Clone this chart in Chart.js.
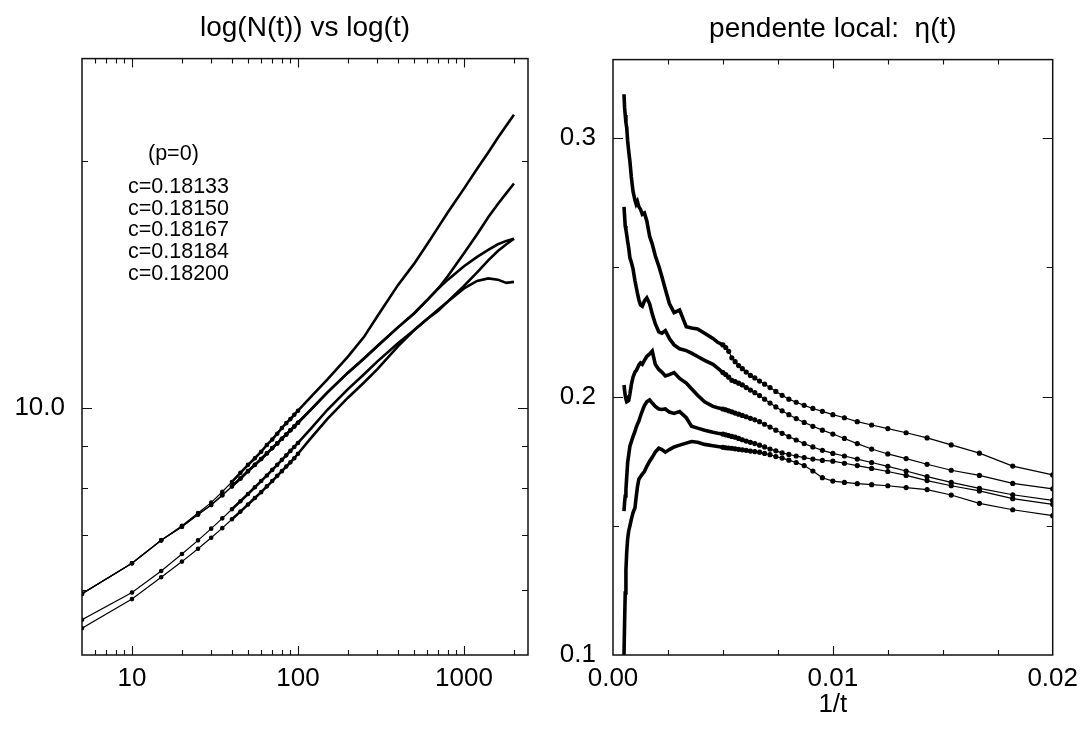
<!DOCTYPE html>
<html>
<head>
<meta charset="utf-8">
<script src="https://cdn.jsdelivr.net/npm/chart.js@4.4.0/dist/chart.umd.min.js"></script>
<style>
  body { margin: 0; background: #fff; width: 1086px; height: 731px; overflow: hidden; position: relative;
         font-family: "Liberation Sans", Arial, Helvetica, sans-serif; }
  canvas { position: absolute; top: 0; }
  #left { left: 0; }
  #right { left: 540px; }
  .note { position: absolute; font-size: 21.5px; line-height: 21.7px; color: #000; white-space: pre; }
</style>
</head>
<body>
<canvas id="left" width="540" height="731"></canvas>
<canvas id="right" width="546" height="731"></canvas>
<div class="note" id="pNote" style="left:148px; top:143px;"></div>
<div class="note" id="cList" style="left:128px; top:176px;"></div>
<script>
const FONT = '"Liberation Sans", Arial, Helvetica, sans-serif';

// ---- left panel: N(t) against t, both log ----
const tLeft = [5, 10, 15, 20, 25, 30, 35, 40, 45, 50, 55, 60, 65, 70, 75, 80, 85, 90, 95, 100,
  120, 150, 200, 250, 300, 400, 500, 600, 700, 800, 1000, 1200, 1400, 1600, 1800, 2000];
const nA = [5.94, 6.47, 6.90, 7.19, 7.45, 7.67, 7.91, 8.13, 8.34, 8.53, 8.69, 8.85, 9.02, 9.16, 9.31, 9.46, 9.59, 9.70, 9.82, 9.93,
  10.33, 10.84, 11.56, 12.22, 12.94, 14.13, 15.0, 15.85, 16.63, 17.34, 18.53, 19.59, 20.51, 21.38, 22.13, 22.80];
const nB = [5.94, 6.47, 6.90, 7.17, 7.42, 7.62, 7.83, 8.03, 8.21, 8.38, 8.53, 8.67, 8.81, 8.94, 9.06, 9.18, 9.29, 9.40, 9.50, 9.60,
  9.97, 10.45, 11.05, 11.5, 11.9, 12.55, 13.05, 13.55, 14.0, 14.5, 15.45, 16.3, 17.1, 17.75, 18.3, 18.8];
const nC = [5.94, 6.47, 6.90, 7.17, 7.42, 7.62, 7.83, 8.03, 8.21, 8.38, 8.53, 8.67, 8.81, 8.94, 9.06, 9.18, 9.29, 9.40, 9.50, 9.60,
  9.97, 10.45, 11.05, 11.5, 11.9, 12.55, 13.05, 13.55, 14.0, 14.35, 14.9, 15.3, 15.6, 15.85, 16.0, 16.1];
const nD = [5.52, 5.96, 6.33, 6.64, 6.90, 7.13, 7.34, 7.53, 7.70, 7.86, 8.01, 8.15, 8.28, 8.41, 8.53, 8.65, 8.76, 8.87, 8.97, 9.07,
  9.45, 9.95, 10.55, 11.0, 11.4, 12.0, 12.45, 12.85, 13.15, 13.5, 14.1, 14.65, 15.15, 15.55, 15.85, 16.1];
const nE = [5.39, 5.85, 6.22, 6.50, 6.74, 6.95, 7.14, 7.32, 7.48, 7.63, 7.77, 7.90, 8.03, 8.15, 8.27, 8.38, 8.49, 8.59, 8.69, 8.80,
  9.2, 9.7, 10.3, 10.75, 11.15, 11.9, 12.45, 12.85, 13.2, 13.5, 14.0, 14.3, 14.4, 14.35, 14.22, 14.26];
const pLabel = '(p=0)';
const cLabels = ['c=0.18133', 'c=0.18150', 'c=0.18167', 'c=0.18184', 'c=0.18200'];

// ---- right panel: local slope eta(t) against 1/t ----
const tRight = [2000, 1900, 1800, 1700, 1600, 1500, 1400, 1300, 1200, 1100, 1000, 950, 900, 850, 800, 750, 700, 650, 600,
  560, 520, 480, 450, 420, 390, 360, 330, 300, 280, 260, 240, 220, 210,
  200, 195, 190, 185, 180, 175, 170, 165, 160, 155, 150, 145, 140, 135, 130, 125, 120, 115, 110, 105, 100,
  95, 90, 85, 80, 75, 70, 65, 60, 55, 50];
const etaA = [0.317, 0.312, 0.309, 0.306, 0.304, 0.299, 0.295, 0.291, 0.285, 0.2795, 0.276, 0.2745, 0.2755, 0.2735, 0.2725, 0.2705, 0.271, 0.268, 0.262,
  0.259, 0.2545, 0.2505, 0.2465, 0.2415, 0.236, 0.2325, 0.2335, 0.227, 0.2265, 0.2262, 0.2245, 0.2225, 0.221,
  0.2200, 0.2190, 0.2175, 0.2150, 0.2135, 0.2120, 0.2108, 0.2095, 0.2082, 0.2072, 0.2060, 0.2048, 0.2035, 0.2020, 0.2005, 0.1990, 0.1978, 0.1966, 0.1954, 0.1943, 0.1930,
  0.1918, 0.1903, 0.1890, 0.1876, 0.1860, 0.1840, 0.1813, 0.1781, 0.1731, 0.1697];
const etaB = [0.2734, 0.270, 0.266, 0.2645, 0.2625, 0.2600, 0.2575, 0.2537, 0.2520, 0.2495, 0.2448, 0.2425, 0.2400, 0.2375, 0.2355, 0.2350, 0.2370, 0.2382, 0.2359,
  0.2320, 0.2282, 0.2250, 0.2245, 0.2255, 0.2225, 0.2200, 0.2185, 0.2178, 0.2168, 0.2155, 0.2140, 0.2125, 0.2110,
  0.2093, 0.2085, 0.2075, 0.2063, 0.2058, 0.2052, 0.2045, 0.2035, 0.2025, 0.2015, 0.2004, 0.1990, 0.1975, 0.1960, 0.1945, 0.1930, 0.1915, 0.1900, 0.1885, 0.1870, 0.1855,
  0.1838, 0.1818, 0.1797, 0.1778, 0.1760, 0.1738, 0.1715, 0.1695, 0.1664, 0.1643];
const etaD = [0.2045, 0.2025, 0.2005, 0.1990, 0.1980, 0.1982, 0.1985, 0.2010, 0.2045, 0.2075, 0.2095, 0.2100, 0.2110, 0.2122, 0.2130, 0.2125, 0.2140, 0.2155, 0.2165,
  0.2176, 0.2125, 0.2105, 0.2095, 0.2080, 0.2085, 0.2093, 0.2070, 0.2052, 0.2030, 0.2005, 0.1980, 0.1962, 0.1957,
  0.1952, 0.1949, 0.1945, 0.1941, 0.1936, 0.1932, 0.1927, 0.1922, 0.1916, 0.1910, 0.1903, 0.1893, 0.1882, 0.1870, 0.1858, 0.1845, 0.1832, 0.1818, 0.1805, 0.1792, 0.1780,
  0.1770, 0.1758, 0.1745, 0.1730, 0.1712, 0.1690, 0.1668, 0.1645, 0.1620, 0.1598];
const etaC = [0.1557, 0.1590, 0.1615, 0.1640, 0.1690, 0.1745, 0.1775, 0.1808, 0.1825, 0.1845, 0.1865, 0.1880, 0.1893, 0.1905, 0.1925, 0.1945, 0.1965, 0.1980, 0.1987,
  0.1975, 0.1962, 0.1952, 0.1950, 0.1952, 0.1940, 0.1935, 0.1942, 0.1918, 0.1885, 0.1878, 0.1870, 0.1862, 0.1858,
  0.1855, 0.1852, 0.1849, 0.1846, 0.1843, 0.1838, 0.1833, 0.1828, 0.1823, 0.1818, 0.1812, 0.1805, 0.1797, 0.1790, 0.1782, 0.1776, 0.1770, 0.1764, 0.1758, 0.1753, 0.1750,
  0.1742, 0.1733, 0.1722, 0.1710, 0.1695, 0.1675, 0.1655, 0.1635, 0.1605, 0.1583];
const etaE = [0.1000, 0.1120, 0.1240, 0.1330, 0.1400, 0.1450, 0.1480, 0.1500, 0.1525, 0.1550, 0.1570, 0.1610, 0.1650, 0.1680, 0.1690, 0.1700, 0.1710, 0.1730, 0.1750,
  0.1765, 0.1785, 0.1800, 0.1795, 0.1785, 0.1795, 0.1805, 0.1812, 0.1820, 0.1826, 0.1823, 0.1815, 0.1810, 0.1807,
  0.1804, 0.1802, 0.1801, 0.1800, 0.1798, 0.1796, 0.1794, 0.1792, 0.1789, 0.1787, 0.1785, 0.1780, 0.1775, 0.1768, 0.1762, 0.1754, 0.1745, 0.1733, 0.1712, 0.1686, 0.1673,
  0.1668, 0.1663, 0.1659, 0.1655, 0.1648, 0.1640, 0.1619, 0.1587, 0.1562, 0.1539];

// tick labels and the little inner tick marks
const leftXLabels = [10, 100, 1000];
const leftYLabels = [10];
const rightXLabels = [0, 0.01, 0.02];
const rightYLabels = [0.1, 0.2, 0.3];
const leftXMinor = [6, 7, 8, 9, 20, 30, 40, 50, 60, 70, 80, 90, 200, 300, 400, 500, 600, 700, 800, 900, 2000];
const leftYMinor = [6, 7, 8, 9, 20];
const rightXMinor = [0.0025, 0.005, 0.0075, 0.0125, 0.015, 0.0175];
const rightYMinor = [0.15, 0.25];

document.getElementById('pNote').textContent = pLabel;
document.getElementById('cList').textContent = cLabels.join('\n');

// box round the plot + ticks pointing inward on all four sides
const frameTicks = {
  id: 'frameTicks',
  afterDatasetsDraw(chart, args, opts) {
    const { ctx, chartArea: a, scales: { x, y } } = chart;
    ctx.save();
    ctx.strokeStyle = '#111';
    ctx.lineWidth = 1.5;
    ctx.strokeRect(a.left, a.top, a.right - a.left, a.bottom - a.top);
    ctx.lineWidth = 1.1;
    ctx.beginPath();
    function xMarks(vals, len) {
      vals.forEach(v => {
        const px = Math.round(x.getPixelForValue(v)) + 0.5;
        ctx.moveTo(px, a.bottom); ctx.lineTo(px, a.bottom - len);
        ctx.moveTo(px, a.top); ctx.lineTo(px, a.top + len);
      });
    }
    function yMarks(vals, len) {
      vals.forEach(v => {
        const py = Math.round(y.getPixelForValue(v)) + 0.5;
        ctx.moveTo(a.left, py); ctx.lineTo(a.left + len, py);
        ctx.moveTo(a.right, py); ctx.lineTo(a.right - len, py);
      });
    }
    xMarks(opts.xMajor, 9); xMarks(opts.xMinor, 5);
    yMarks(opts.yMajor, 10); yMarks(opts.yMinor, 6);
    ctx.stroke();
    ctx.restore();
  }
};

function axisFont(size) {
  return { family: FONT, size: size, weight: 'normal' };
}

// left chart
const leftSeries = [nA, nB, nC, nD, nE];
new Chart(document.getElementById('left'), {
  type: 'scatter',
  data: {
    datasets: leftSeries.map((ys, k) => ({
      label: cLabels[k],
      data: tLeft.map((t, i) => ({ x: t, y: ys[i] })),
      showLine: true,
      borderColor: '#000',
      backgroundColor: '#000',
      borderWidth: 1.2,
      pointRadius: ctx => (ctx.raw && ctx.raw.x <= 100 ? 1.7 : 0),
      pointHoverRadius: 0,
      segment: { borderWidth: ctx => (ctx.p0.parsed.x >= 40 ? 2.6 : 1.2) }
    }))
  },
  options: {
    responsive: false,
    animation: false,
    layout: { padding: { left: 0, right: 12, top: 0, bottom: 0 } },
    plugins: {
      legend: { display: false },
      tooltip: { enabled: false },
      title: { display: true, text: 'log(N(t)) vs log(t)', fullSize: false, color: '#000',
               font: axisFont(28), padding: { top: 11, bottom: 14 } },
      frameTicks: { xMajor: leftXLabels, xMinor: leftXMinor, yMajor: leftYLabels, yMinor: leftYMinor }
    },
    scales: {
      x: {
        type: 'logarithmic', min: 5, max: 2430,
        grid: { display: false, drawTicks: false }, border: { display: false },
        afterBuildTicks: s => { s.ticks = leftXLabels.map(v => ({ value: v })); },
        afterFit: s => { s.height = 76; },
        ticks: { color: '#000', font: axisFont(26), padding: 8, autoSkip: false, maxRotation: 0,
                 callback: v => String(v) }
      },
      y: {
        type: 'logarithmic', min: 5, max: 26.7,
        grid: { display: false, drawTicks: false }, border: { display: false },
        afterBuildTicks: s => { s.ticks = leftYLabels.map(v => ({ value: v })); },
        afterFit: s => { s.width = 82; },
        ticks: { color: '#000', font: axisFont(26), padding: 17, autoSkip: false,
                 callback: v => Number(v).toFixed(1) }
      }
    }
  },
  plugins: [frameTicks]
});

// right chart
const rightSeries = [etaA, etaB, etaD, etaC, etaE];
new Chart(document.getElementById('right'), {
  type: 'scatter',
  data: {
    datasets: rightSeries.map((ys, k) => ({
      label: 'eta ' + k,
      data: tRight.map((t, i) => ({ x: 1 / t, y: ys[i] })),
      showLine: true,
      borderColor: '#000',
      backgroundColor: '#000',
      borderWidth: 1.2,
      pointRadius: ctx => (ctx.raw && ctx.raw.x >= 0.00499 ? 2 : 0),
      pointHoverRadius: 0,
      segment: { borderWidth: ctx => (ctx.p0.parsed.x < 0.0049 ? 3.6 : 1.2) }
    }))
  },
  options: {
    responsive: false,
    animation: false,
    layout: { padding: { left: 0, right: 31, top: 0, bottom: 0 } },
    plugins: {
      legend: { display: false },
      tooltip: { enabled: false },
      title: { display: true, text: 'pendente local:  η(t)', fullSize: false, color: '#000',
               font: axisFont(28), padding: { top: 12, bottom: 14 } },
      frameTicks: { xMajor: [0.01], xMinor: rightXMinor, yMajor: [0.2, 0.3], yMinor: rightYMinor }
    },
    scales: {
      x: {
        type: 'linear', min: 0, max: 0.02,
        grid: { display: false, drawTicks: false }, border: { display: false },
        afterBuildTicks: s => { s.ticks = rightXLabels.map(v => ({ value: v })); },
        afterFit: s => { s.height = 76; },
        title: { display: true, text: '1/t', color: '#000', font: axisFont(26), padding: { top: 0, bottom: 11 } },
        ticks: { color: '#000', font: axisFont(26), padding: 8, autoSkip: false, maxRotation: 0,
                 callback: v => Number(v).toFixed(2) }
      },
      y: {
        type: 'linear', min: 0.1, max: 0.3304,
        grid: { display: false, drawTicks: false }, border: { display: false },
        afterBuildTicks: s => { s.ticks = rightYLabels.map(v => ({ value: v })); },
        afterFit: s => { s.width = 73; },
        ticks: { color: '#000', font: axisFont(26), padding: 17, autoSkip: false,
                 callback: v => Number(v).toFixed(1) }
      }
    }
  },
  plugins: [frameTicks]
});
</script>
</body>
</html>
